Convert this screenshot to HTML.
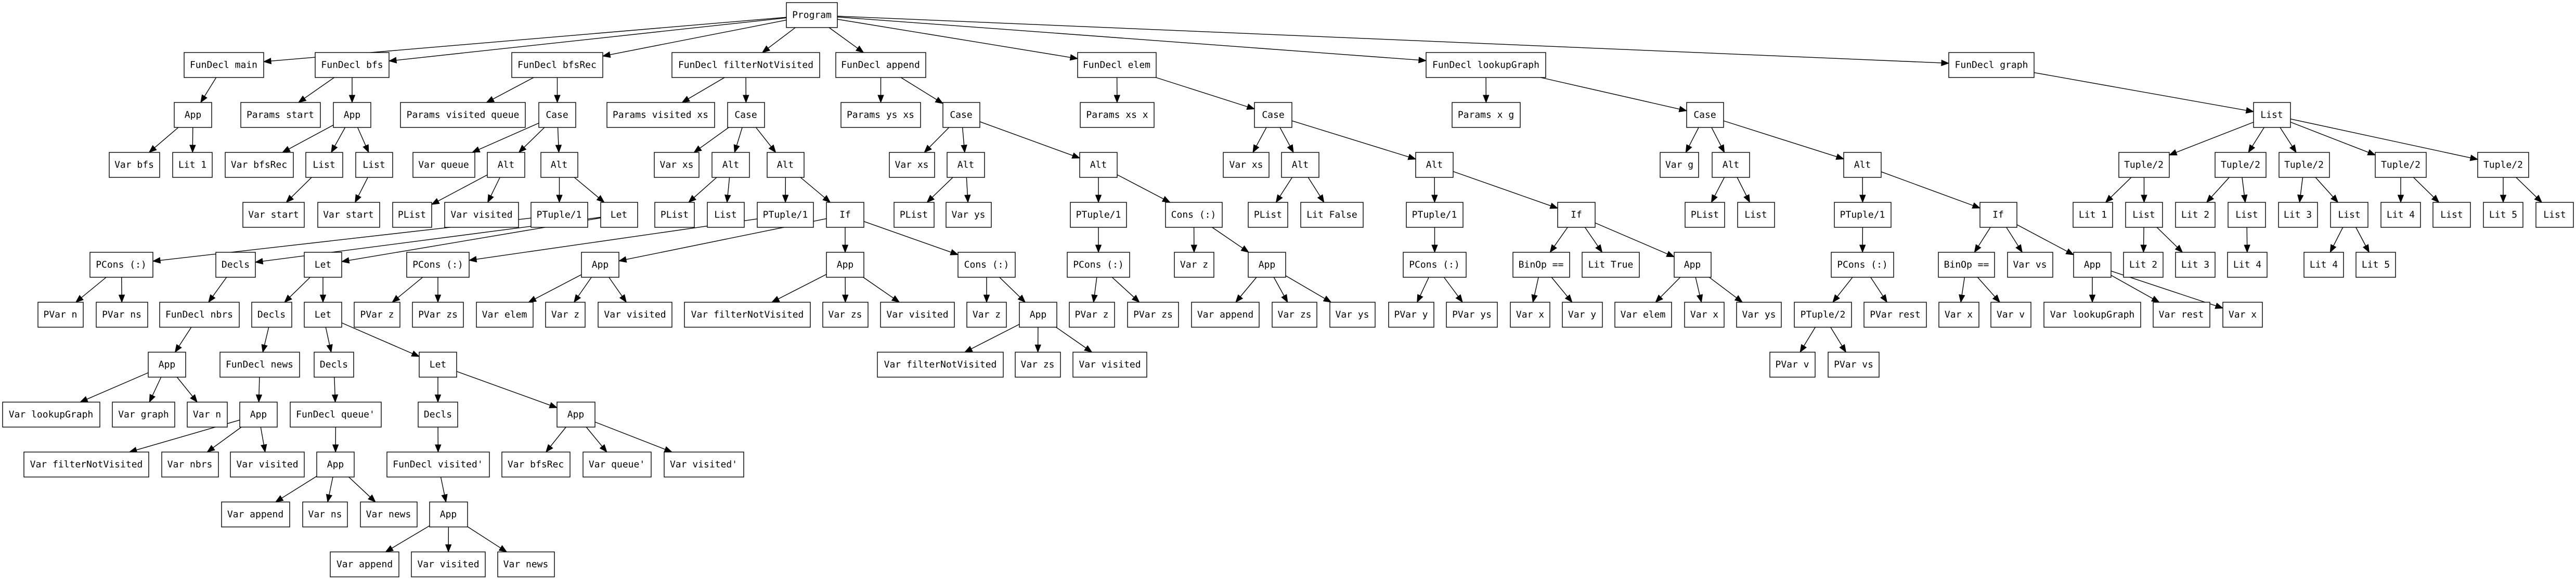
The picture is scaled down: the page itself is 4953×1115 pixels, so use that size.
<!DOCTYPE html>
<html><head><meta charset="utf-8"><style>
html,body{margin:0;padding:0;background:#fff;}
svg{display:block;}
rect{fill:#fff;stroke:#000;stroke-width:1.4;}
text{font-family:"DejaVu Sans Mono","Liberation Mono",monospace;font-size:18px;fill:#000;text-anchor:middle;dominant-baseline:central;}
line,path.e{stroke:#000;stroke-width:1.4;fill:none;}
polygon{fill:#000;stroke:#000;stroke-width:1;}
</style></head><body>
<svg id="s" width="4953" height="1115" viewBox="0 0 4953 1115" xmlns="http://www.w3.org/2000/svg">
<g id="E"></g>
<g id="N">
<rect id="P" x="1512" y="5" width="98" height="48"/><text x="1561" y="29">Program</text>
<rect id="m" class="p-P" x="354" y="101" width="153" height="48"/><text x="430" y="125">FunDecl main</text>
<rect id="b" class="p-P" x="606" y="101" width="142" height="48"/><text x="677" y="125">FunDecl bfs</text>
<rect id="br" class="p-P" x="984" y="101" width="175" height="48"/><text x="1071" y="125">FunDecl bfsRec</text>
<rect id="f" class="p-P" x="1292" y="101" width="284" height="48"/><text x="1434" y="125">FunDecl filterNotVisited</text>
<rect id="a" class="p-P" x="1607" y="101" width="173" height="48"/><text x="1693" y="125">FunDecl append</text>
<rect id="e" class="p-P" x="2072" y="101" width="151" height="48"/><text x="2147" y="125">FunDecl elem</text>
<rect id="l" class="p-P" x="2742" y="101" width="230" height="48"/><text x="2857" y="125">FunDecl lookupGraph</text>
<rect id="g" class="p-P" x="3747" y="101" width="164" height="48"/><text x="3829" y="125">FunDecl graph</text>
<rect id="m1" class="p-m" x="335" y="197" width="72" height="48"/><text x="371" y="221">App</text>
<rect id="b1" class="p-b" x="463" y="197" width="153" height="48"/><text x="539" y="221">Params start</text>
<rect id="b2" class="p-b" x="641" y="197" width="72" height="48"/><text x="677" y="221">App</text>
<rect id="br1" class="p-br" x="770" y="197" width="240" height="48"/><text x="890" y="221">Params visited queue</text>
<rect id="br2" class="p-br" x="1036" y="197" width="71" height="48"/><text x="1071" y="221">Case</text>
<rect id="f1" class="p-f" x="1167" y="197" width="207" height="48"/><text x="1270" y="221">Params visited xs</text>
<rect id="f2" class="p-f" x="1399" y="197" width="71" height="48"/><text x="1434" y="221">Case</text>
<rect id="a1" class="p-a" x="1617" y="197" width="153" height="48"/><text x="1693" y="221">Params ys xs</text>
<rect id="a2" class="p-a" x="1813" y="197" width="71" height="48"/><text x="1848" y="221">Case</text>
<rect id="e1" class="p-e" x="2077" y="197" width="142" height="48"/><text x="2148" y="221">Params xs x</text>
<rect id="e2" class="p-e" x="2412" y="197" width="72" height="48"/><text x="2448" y="221">Case</text>
<rect id="l1" class="p-l" x="2792" y="197" width="131" height="48"/><text x="2857" y="221">Params x g</text>
<rect id="l2" class="p-l" x="3243" y="197" width="71" height="48"/><text x="3278" y="221">Case</text>
<rect id="g1" class="p-g" x="4333" y="197" width="71" height="48"/><text x="4368" y="221">List</text>
<rect id="x1" class="p-m1" x="210" y="293" width="97" height="48"/><text x="258" y="317">Var bfs</text>
<rect id="x2" class="p-m1" x="332" y="293" width="76" height="48"/><text x="370" y="317">Lit 1</text>
<rect id="x3" class="p-b2" x="433" y="293" width="131" height="48"/><text x="498" y="317">Var bfsRec</text>
<rect id="b2b" class="p-b2" x="588" y="293" width="71" height="48"/><text x="623" y="317">List</text>
<rect id="b2c" class="p-b2" x="684" y="293" width="71" height="48"/><text x="719" y="317">List</text>
<rect id="c1" class="p-br2" x="794" y="293" width="119" height="48"/><text x="853" y="317">Var queue</text>
<rect id="c2" class="p-br2" x="937" y="293" width="72" height="48"/><text x="973" y="317">Alt</text>
<rect id="c3" class="p-br2" x="1040" y="293" width="71" height="48"/><text x="1075" y="317">Alt</text>
<rect id="d1" class="p-f2" x="1258" y="293" width="86" height="48"/><text x="1301" y="317">Var xs</text>
<rect id="d2" class="p-f2" x="1369" y="293" width="72" height="48"/><text x="1405" y="317">Alt</text>
<rect id="d3" class="p-f2" x="1475" y="293" width="71" height="48"/><text x="1510" y="317">Alt</text>
<rect id="h1" class="p-a2" x="1710" y="293" width="87" height="48"/><text x="1753" y="317">Var xs</text>
<rect id="h2" class="p-a2" x="1821" y="293" width="72" height="48"/><text x="1857" y="317">Alt</text>
<rect id="h3" class="p-a2" x="2076" y="293" width="72" height="48"/><text x="2112" y="317">Alt</text>
<rect id="k1" class="p-e2" x="2352" y="293" width="88" height="48"/><text x="2396" y="317">Var xs</text>
<rect id="k2" class="p-e2" x="2464" y="293" width="72" height="48"/><text x="2500" y="317">Alt</text>
<rect id="k3" class="p-e2" x="2722" y="293" width="72" height="48"/><text x="2758" y="317">Alt</text>
<rect id="n1" class="p-l2" x="3192" y="293" width="74" height="48"/><text x="3229" y="317">Var g</text>
<rect id="n2" class="p-l2" x="3292" y="293" width="72" height="48"/><text x="3328" y="317">Alt</text>
<rect id="n3" class="p-l2" x="3545" y="293" width="72" height="48"/><text x="3581" y="317">Alt</text>
<rect id="t1" class="p-g1" x="4074" y="293" width="97" height="48"/><text x="4122" y="317">Tuple/2</text>
<rect id="t2" class="p-g1" x="4259" y="293" width="98" height="48"/><text x="4308" y="317">Tuple/2</text>
<rect id="t3" class="p-g1" x="4382" y="293" width="97" height="48"/><text x="4430" y="317">Tuple/2</text>
<rect id="t4" class="p-g1" x="4567" y="293" width="98" height="48"/><text x="4616" y="317">Tuple/2</text>
<rect id="t5" class="p-g1" x="4764" y="293" width="98" height="48"/><text x="4813" y="317">Tuple/2</text>
<rect id="y1" class="p-b2b" x="467" y="389" width="118" height="48"/><text x="526" y="413">Var start</text>
<rect id="y2" class="p-b2c" x="611" y="389" width="119" height="48"/><text x="670" y="413">Var start</text>
<rect id="y3" class="p-c2" x="755" y="389" width="75" height="48"/><text x="792" y="413">PList</text>
<rect id="y4" class="p-c2" x="855" y="389" width="142" height="48"/><text x="926" y="413">Var visited</text>
<rect id="c3a" class="p-c3" x="1021" y="389" width="109" height="48"/><text x="1075" y="413">PTuple/1</text>
<rect id="c3b" class="p-c3" x="1155" y="389" width="71" height="48"/><text x="1190" y="413">Let</text>
<rect id="y5" class="p-d2" x="1259" y="389" width="76" height="48"/><text x="1297" y="413">PList</text>
<rect id="y6" class="p-d2" x="1360" y="389" width="71" height="48"/><text x="1395" y="413">List</text>
<rect id="d3a" class="p-d3" x="1456" y="389" width="108" height="48"/><text x="1510" y="413">PTuple/1</text>
<rect id="d3b" class="p-d3" x="1589" y="389" width="72" height="48"/><text x="1625" y="413">If</text>
<rect id="y7" class="p-h2" x="1719" y="389" width="77" height="48"/><text x="1757" y="413">PList</text>
<rect id="y8" class="p-h2" x="1819" y="389" width="87" height="48"/><text x="1862" y="413">Var ys</text>
<rect id="h3a" class="p-h3" x="2058" y="389" width="108" height="48"/><text x="2112" y="413">PTuple/1</text>
<rect id="h3b" class="p-h3" x="2241" y="389" width="109" height="48"/><text x="2295" y="413">Cons (:)</text>
<rect id="y9" class="p-k2" x="2400" y="389" width="76" height="48"/><text x="2438" y="413">PList</text>
<rect id="y10" class="p-k2" x="2501" y="389" width="120" height="48"/><text x="2561" y="413">Lit False</text>
<rect id="k3a" class="p-k3" x="2704" y="389" width="109" height="48"/><text x="2758" y="413">PTuple/1</text>
<rect id="k3b" class="p-k3" x="2995" y="389" width="72" height="48"/><text x="3031" y="413">If</text>
<rect id="y11" class="p-n2" x="3240" y="389" width="76" height="48"/><text x="3278" y="413">PList</text>
<rect id="y12" class="p-n2" x="3341" y="389" width="71" height="48"/><text x="3376" y="413">List</text>
<rect id="n3a" class="p-n3" x="3527" y="389" width="109" height="48"/><text x="3581" y="413">PTuple/1</text>
<rect id="n3b" class="p-n3" x="3807" y="389" width="71" height="48"/><text x="3842" y="413">If</text>
<rect id="y13" class="p-t1" x="3986" y="389" width="76" height="48"/><text x="4024" y="413">Lit 1</text>
<rect id="t1b" class="p-t1" x="4087" y="389" width="71" height="48"/><text x="4122" y="413">List</text>
<rect id="y14" class="p-t2" x="4183" y="389" width="76" height="48"/><text x="4221" y="413">Lit 2</text>
<rect id="t2b" class="p-t2" x="4284" y="389" width="72" height="48"/><text x="4320" y="413">List</text>
<rect id="y15" class="p-t3" x="4381" y="389" width="75" height="48"/><text x="4418" y="413">Lit 3</text>
<rect id="t3b" class="p-t3" x="4481" y="389" width="72" height="48"/><text x="4517" y="413">List</text>
<rect id="y16" class="p-t4" x="4578" y="389" width="76" height="48"/><text x="4616" y="413">Lit 4</text>
<rect id="y17" class="p-t4" x="4678" y="389" width="72" height="48"/><text x="4714" y="413">List</text>
<rect id="y18" class="p-t5" x="4775" y="389" width="76" height="48"/><text x="4813" y="413">Lit 5</text>
<rect id="y19" class="p-t5" x="4876" y="389" width="72" height="48"/><text x="4912" y="413">List</text>
<rect id="c3a1" class="p-c3a" x="173" y="485" width="121" height="48"/><text x="233" y="509">PCons (:)</text>
<rect id="c3b1" class="p-c3b" x="415" y="485" width="76" height="48"/><text x="453" y="509">Decls</text>
<rect id="c3b2" class="p-c3b" x="585" y="485" width="72" height="48"/><text x="621" y="509">Let</text>
<rect id="d3a1" class="p-d3a" x="782" y="485" width="120" height="48"/><text x="842" y="509">PCons (:)</text>
<rect id="d3b1" class="p-d3b" x="1118" y="485" width="72" height="48"/><text x="1154" y="509">App</text>
<rect id="d3b2" class="p-d3b" x="1589" y="485" width="72" height="48"/><text x="1625" y="509">App</text>
<rect id="d3b3" class="p-d3b" x="1842" y="485" width="110" height="48"/><text x="1897" y="509">Cons (:)</text>
<rect id="h3a1" class="p-h3a" x="2052" y="485" width="120" height="48"/><text x="2112" y="509">PCons (:)</text>
<rect id="z1" class="p-h3b" x="2258" y="485" width="76" height="48"/><text x="2296" y="509">Var z</text>
<rect id="h3b2" class="p-h3b" x="2400" y="485" width="72" height="48"/><text x="2436" y="509">App</text>
<rect id="k3a1" class="p-k3a" x="2698" y="485" width="121" height="48"/><text x="2758" y="509">PCons (:)</text>
<rect id="k3b1" class="p-k3b" x="2909" y="485" width="109" height="48"/><text x="2963" y="509">BinOp ==</text>
<rect id="z2" class="p-k3b" x="3042" y="485" width="110" height="48"/><text x="3097" y="509">Lit True</text>
<rect id="k3b3" class="p-k3b" x="3219" y="485" width="71" height="48"/><text x="3254" y="509">App</text>
<rect id="n3a1" class="p-n3a" x="3521" y="485" width="120" height="48"/><text x="3581" y="509">PCons (:)</text>
<rect id="n3b1" class="p-n3b" x="3727" y="485" width="108" height="48"/><text x="3781" y="509">BinOp ==</text>
<rect id="z3" class="p-n3b" x="3860" y="485" width="87" height="48"/><text x="3903" y="509">Var vs</text>
<rect id="n3b3" class="p-n3b" x="3987" y="485" width="72" height="48"/><text x="4023" y="509">App</text>
<rect id="z4" class="p-t1b" x="4083" y="485" width="76" height="48"/><text x="4121" y="509">Lit 2</text>
<rect id="z5" class="p-t1b" x="4183" y="485" width="76" height="48"/><text x="4221" y="509">Lit 3</text>
<rect id="z6" class="p-t2b" x="4283" y="485" width="76" height="48"/><text x="4321" y="509">Lit 4</text>
<rect id="z7" class="p-t3b" x="4430" y="485" width="76" height="48"/><text x="4468" y="509">Lit 4</text>
<rect id="z8" class="p-t3b" x="4530" y="485" width="76" height="48"/><text x="4568" y="509">Lit 5</text>
<rect id="w1" class="p-c3a1" x="73" y="581" width="87" height="48"/><text x="116" y="605">PVar n</text>
<rect id="w2" class="p-c3a1" x="185" y="581" width="99" height="48"/><text x="234" y="605">PVar ns</text>
<rect id="fn" class="p-c3b1" x="307" y="581" width="153" height="48"/><text x="383" y="605">FunDecl nbrs</text>
<rect id="dc" class="p-c3b2" x="484" y="581" width="77" height="48"/><text x="522" y="605">Decls</text>
<rect id="lt" class="p-c3b2" x="585" y="581" width="72" height="48"/><text x="621" y="605">Let</text>
<rect id="w3" class="p-d3a1" x="681" y="581" width="88" height="48"/><text x="725" y="605">PVar z</text>
<rect id="w4" class="p-d3a1" x="793" y="581" width="98" height="48"/><text x="842" y="605">PVar zs</text>
<rect id="w5" class="p-d3b1" x="916" y="581" width="109" height="48"/><text x="970" y="605">Var elem</text>
<rect id="w6" class="p-d3b1" x="1049" y="581" width="76" height="48"/><text x="1087" y="605">Var z</text>
<rect id="w7" class="p-d3b1" x="1150" y="581" width="142" height="48"/><text x="1221" y="605">Var visited</text>
<rect id="w8" class="p-d3b2" x="1316" y="581" width="242" height="48"/><text x="1437" y="605">Var filterNotVisited</text>
<rect id="w9" class="p-d3b2" x="1582" y="581" width="87" height="48"/><text x="1625" y="605">Var zs</text>
<rect id="w10" class="p-d3b2" x="1693" y="581" width="142" height="48"/><text x="1764" y="605">Var visited</text>
<rect id="w11" class="p-d3b3" x="1859" y="581" width="76" height="48"/><text x="1897" y="605">Var z</text>
<rect id="ap" class="p-d3b3" x="1960" y="581" width="72" height="48"/><text x="1996" y="605">App</text>
<rect id="w12" class="p-h3a1" x="2056" y="581" width="87" height="48"/><text x="2099" y="605">PVar z</text>
<rect id="w13" class="p-h3a1" x="2168" y="581" width="98" height="48"/><text x="2217" y="605">PVar zs</text>
<rect id="w14" class="p-h3b2" x="2291" y="581" width="130" height="48"/><text x="2356" y="605">Var append</text>
<rect id="w15" class="p-h3b2" x="2446" y="581" width="86" height="48"/><text x="2489" y="605">Var zs</text>
<rect id="w16" class="p-h3b2" x="2557" y="581" width="87" height="48"/><text x="2600" y="605">Var ys</text>
<rect id="w17" class="p-k3a1" x="2670" y="581" width="87" height="48"/><text x="2713" y="605">PVar y</text>
<rect id="w18" class="p-k3a1" x="2781" y="581" width="98" height="48"/><text x="2830" y="605">PVar ys</text>
<rect id="w19" class="p-k3b1" x="2904" y="581" width="76" height="48"/><text x="2942" y="605">Var x</text>
<rect id="w20" class="p-k3b1" x="3004" y="581" width="77" height="48"/><text x="3042" y="605">Var y</text>
<rect id="w21" class="p-k3b3" x="3105" y="581" width="109" height="48"/><text x="3159" y="605">Var elem</text>
<rect id="w22" class="p-k3b3" x="3239" y="581" width="76" height="48"/><text x="3277" y="605">Var x</text>
<rect id="w23" class="p-k3b3" x="3339" y="581" width="86" height="48"/><text x="3382" y="605">Var ys</text>
<rect id="pt" class="p-n3a1" x="3450" y="581" width="110" height="48"/><text x="3505" y="605">PTuple/2</text>
<rect id="w24" class="p-n3a1" x="3584" y="581" width="120" height="48"/><text x="3644" y="605">PVar rest</text>
<rect id="w25" class="p-n3b1" x="3728" y="581" width="77" height="48"/><text x="3766" y="605">Var x</text>
<rect id="w26" class="p-n3b1" x="3828" y="581" width="77" height="48"/><text x="3866" y="605">Var v</text>
<rect id="w27" class="p-n3b3" x="3930" y="581" width="186" height="48"/><text x="4023" y="605">Var lookupGraph</text>
<rect id="w28" class="p-n3b3" x="4140" y="581" width="109" height="48"/><text x="4194" y="605">Var rest</text>
<rect id="w29" class="p-n3b3" x="4274" y="581" width="76" height="48"/><text x="4312" y="605">Var x</text>
<rect id="fnA" class="p-fn" x="285" y="677" width="72" height="48"/><text x="321" y="701">App</text>
<rect id="fnews" class="p-dc" x="423" y="677" width="153" height="48"/><text x="499" y="701">FunDecl news</text>
<rect id="lD" class="p-lt" x="604" y="677" width="76" height="48"/><text x="642" y="701">Decls</text>
<rect id="lL" class="p-lt" x="806" y="677" width="72" height="48"/><text x="842" y="701">Let</text>
<rect id="v1" class="p-ap" x="1687" y="677" width="242" height="48"/><text x="1808" y="701">Var filterNotVisited</text>
<rect id="v2" class="p-ap" x="1952" y="677" width="87" height="48"/><text x="1995" y="701">Var zs</text>
<rect id="v3" class="p-ap" x="2063" y="677" width="142" height="48"/><text x="2134" y="701">Var visited</text>
<rect id="v4" class="p-pt" x="3403" y="677" width="87" height="48"/><text x="3446" y="701">PVar v</text>
<rect id="v5" class="p-pt" x="3515" y="677" width="98" height="48"/><text x="3564" y="701">PVar vs</text>
<rect id="u1" class="p-fnA" x="5" y="773" width="187" height="48"/><text x="98" y="797">Var lookupGraph</text>
<rect id="u2" class="p-fnA" x="216" y="773" width="120" height="48"/><text x="276" y="797">Var graph</text>
<rect id="u3" class="p-fnA" x="360" y="773" width="77" height="48"/><text x="398" y="797">Var n</text>
<rect id="nA" class="p-fnews" x="461" y="773" width="72" height="48"/><text x="497" y="797">App</text>
<rect id="fq" class="p-lD" x="558" y="773" width="175" height="48"/><text x="645" y="797">FunDecl queue'</text>
<rect id="lD2" class="p-lL" x="804" y="773" width="76" height="48"/><text x="842" y="797">Decls</text>
<rect id="lA" class="p-lL" x="1071" y="773" width="73" height="48"/><text x="1107" y="797">App</text>
<rect id="s1" class="p-nA" x="46" y="869" width="240" height="48"/><text x="166" y="893">Var filterNotVisited</text>
<rect id="s2" class="p-nA" x="311" y="869" width="109" height="48"/><text x="365" y="893">Var nbrs</text>
<rect id="s3" class="p-nA" x="443" y="869" width="142" height="48"/><text x="514" y="893">Var visited</text>
<rect id="qA" class="p-fq" x="609" y="869" width="72" height="48"/><text x="645" y="893">App</text>
<rect id="fv" class="p-lD2" x="744" y="869" width="197" height="48"/><text x="842" y="893">FunDecl visited'</text>
<rect id="s4" class="p-lA" x="965" y="869" width="131" height="48"/><text x="1030" y="893">Var bfsRec</text>
<rect id="s5" class="p-lA" x="1121" y="869" width="131" height="48"/><text x="1186" y="893">Var queue'</text>
<rect id="s6" class="p-lA" x="1277" y="869" width="153" height="48"/><text x="1353" y="893">Var visited'</text>
<rect id="q1" class="p-qA" x="426" y="965" width="131" height="48"/><text x="491" y="989">Var append</text>
<rect id="q2" class="p-qA" x="582" y="965" width="86" height="48"/><text x="625" y="989">Var ns</text>
<rect id="q3" class="p-qA" x="693" y="965" width="109" height="48"/><text x="747" y="989">Var news</text>
<rect id="vA" class="p-fv" x="826" y="965" width="73" height="48"/><text x="862" y="989">App</text>
<rect id="o1" class="p-vA" x="635" y="1061" width="132" height="48"/><text x="701" y="1085">Var append</text>
<rect id="o2" class="p-vA" x="791" y="1061" width="142" height="48"/><text x="862" y="1085">Var visited</text>
<rect id="o3" class="p-vA" x="957" y="1061" width="109" height="48"/><text x="1011" y="1085">Var news</text>
</g>
</svg>
<script>
(function(){
var NS="http://www.w3.org/2000/svg";
var E=document.getElementById("E");
function box(r){var x=+r.getAttribute("x"),y=+r.getAttribute("y"),w=+r.getAttribute("width"),h=+r.getAttribute("height");return {x:x,y:y,w:w,h:h,cx:x+w/2,cy:y+h/2};}
function clip(b,dx,dy){
  var tx=dx!==0?(b.w/2)/Math.abs(dx):1e9, ty=dy!==0?(b.h/2)/Math.abs(dy):1e9;
  var t=Math.min(tx,ty);return [b.cx+dx*t,b.cy+dy*t];}
var rs=document.querySelectorAll("rect[class]");
for(var i=0;i<rs.length;i++){
  var c=rs[i].getAttribute("class");if(c.indexOf("p-")!==0)continue;
  var p=document.getElementById(c.slice(2));if(!p)continue;
  var A=box(p),B=box(rs[i]);
  var dx=B.cx-A.cx,dy=B.cy-A.cy;
  var s=clip(A,dx,dy),e=clip(B,-dx,-dy);
  var vx=e[0]-s[0],vy=e[1]-s[1],L=Math.sqrt(vx*vx+vy*vy);vx/=L;vy/=L;
  var AL=14,AW=5.5;
  var bx=e[0]-vx*AL,by=e[1]-vy*AL;
  var ln=document.createElementNS(NS,"line");
  ln.setAttribute("x1",s[0]);ln.setAttribute("y1",s[1]);ln.setAttribute("x2",bx);ln.setAttribute("y2",by);
  E.appendChild(ln);
  var pg=document.createElementNS(NS,"polygon");
  pg.setAttribute("points",e[0]+","+e[1]+" "+(bx-vy*AW)+","+(by+vx*AW)+" "+(bx+vy*AW)+","+(by-vx*AW));
  E.appendChild(pg);
}
})();
</script>
</body></html>
